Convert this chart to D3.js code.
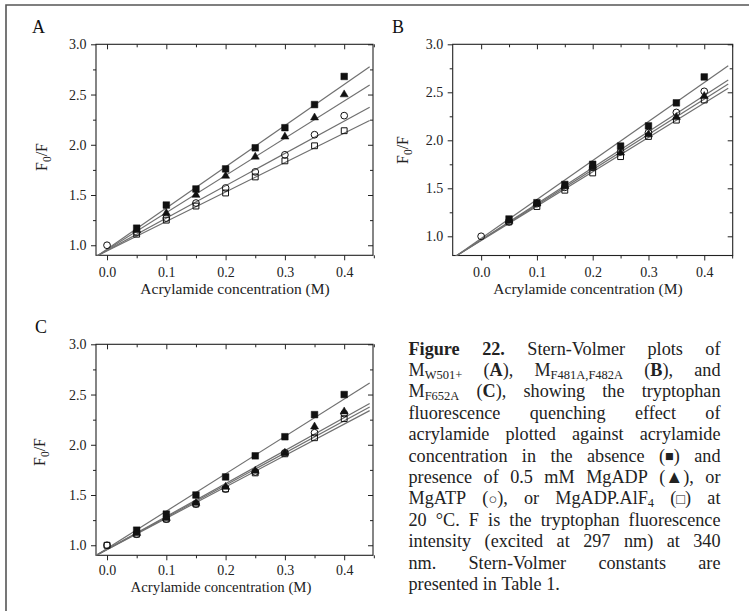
<!DOCTYPE html>
<html>
<head>
<meta charset="utf-8">
<script src="https://cdn.jsdelivr.net/npm/d3@7"></script>
<style>
  body { margin: 0; background: #fff; }
  svg { display: block; font-family: "Liberation Serif", "Times New Roman", serif; }
</style>
</head>
<body>
<svg id="fig" width="749" height="611"></svg>
<script>
// =============================================================================
// data
// =============================================================================
var concentrations = [0, 0.05, 0.1, 0.15, 0.2, 0.25, 0.3, 0.35, 0.4];
var xTicks = [0, 0.1, 0.2, 0.3, 0.4];
var xMinorTicks = [0.05, 0.15, 0.25, 0.35, 0.45];
var yTicks = [1.0, 1.5, 2.0, 2.5, 3.0];
var yMinorTicks = [1.25, 1.75, 2.25, 2.75];
// order: no nucleotide (filled square), MgADP (filled triangle), MgATP (open circle), MgADP.AlF4 (open square)
var symbolKinds = ["squareFilled", "triangleFilled", "circleOpen", "squareOpen"];

// panel A : M W501+
var apoA = [null, 1.17, 1.40, 1.56, 1.76, 1.97, 2.17, 2.40, 2.68];
var adpA = [null, 1.15, 1.32, 1.50, 1.69, 1.88, 2.08, 2.27, 2.50];
var atpA = [1.00, 1.13, 1.27, 1.42, 1.57, 1.73, 1.90, 2.10, 2.29];
var alfA = [null, 1.11, 1.25, 1.39, 1.52, 1.68, 1.84, 1.99, 2.14];
var slopeA = [4.10, 3.70, 3.22, 2.93];
var interceptA = [0.961, 0.955, 0.948, 0.944];

// panel B : M F481A,F482A
var apoB = [null, 1.18, 1.35, 1.54, 1.75, 1.94, 2.15, 2.39, 2.66];
var adpB = [null, 1.16, 1.34, 1.52, 1.72, 1.87, 2.06, 2.24, 2.46];
var atpB = [1.00, 1.15, 1.34, 1.51, 1.72, 1.88, 2.08, 2.29, 2.51];
var alfB = [null, 1.15, 1.31, 1.48, 1.66, 1.83, 2.04, 2.21, 2.42];
var slopeB = [4.06, 3.67, 3.76, 3.58];
var interceptB = [0.977, 0.960, 0.963, 0.956];

// panel C : M F652A
var apoC = [null, 1.15, 1.31, 1.50, 1.68, 1.89, 2.08, 2.30, 2.50];
var adpC = [null, 1.12, 1.27, 1.42, 1.58, 1.74, 1.92, 2.18, 2.33];
var atpC = [1.00, 1.11, 1.26, 1.41, 1.56, 1.73, 1.92, 2.12, 2.31];
var alfC = [1.00, 1.11, 1.26, 1.41, 1.56, 1.72, 1.91, 2.07, 2.26];
var slopeC = [3.72, 3.275, 3.20, 3.124];
var interceptC = [0.967, 0.959, 0.958, 0.956];

var fitEnd = 0.443;

// caption, one entry per printed line. *bold*  _{subscript}  ~{symbol}
var captionLines = [
    "*Figure* *22.* Stern-Volmer plots of",
    "M_{W501+} (*A*), M_{F481A,F482A} (*B*), and",
    "M_{F652A} (*C*), showing the tryptophan",
    "fluorescence quenching effect of",
    "acrylamide plotted against acrylamide",
    "concentration in the absence (~{\u25A0}) and",
    "presence of 0.5 mM MgADP (\u25B2), or",
    "MgATP (~{\u25CB}), or MgADP.AlF_{4} (~{\u25A1}) at",
    "20 \u00B0C. F is the tryptophan fluorescence",
    "intensity (excited at 297 nm) at 340",
    "nm. Stern-Volmer constants are",
    "presented in Table 1."
];

// =============================================================================
// layout
// =============================================================================
var svg = d3.select("#fig");

var panels = [
    { label: "A", left: 96, right: 373, top: 44.3, bottom: 255.3,
      xDomain: [-0.0186, 0.4486], yDomain: [0.9, 3.0], tickPad: 6.5,
      series: [apoA, adpA, atpA, alfA], slope: slopeA, intercept: interceptA,
      labelX: 32, labelY: 33, yTitleX: 47, yTitleY: 157, xTitleX: 235, xTitleY: 294, xTitleSize: 15.5 },
    { label: "B", left: 452.7, right: 732.7, top: 44.3, bottom: 255.5,
      xDomain: [-0.051, 0.451], yDomain: [0.8, 3.0], tickPad: 6.5,
      series: [apoB, adpB, atpB, alfB], slope: slopeB, intercept: interceptB,
      labelX: 392, labelY: 33, yTitleX: 408, yTitleY: 150, xTitleX: 588, xTitleY: 294, xTitleSize: 15.5 },
    { label: "C", left: 96, right: 373, top: 344.3, bottom: 555.3,
      xDomain: [-0.0186, 0.4486], yDomain: [0.9, 3.0], tickPad: 5,
      series: [apoC, adpC, atpC, alfC], slope: slopeC, intercept: interceptC,
      labelX: 35, labelY: 333, yTitleX: 45, yTitleY: 452, xTitleX: 221, xTitleY: 592, xTitleSize: 14.8 }
];

// outer frame of the figure
svg.append("path")
    .attr("d", "M6,611 L6,5 L749,5")
    .attr("fill", "none")
    .attr("stroke", "#555")
    .attr("stroke-width", 1.6);

panels.forEach(drawPanel);
drawCaption();

// =============================================================================
// panels
// =============================================================================
function drawPanel(p) {

    var x = d3.scaleLinear().domain(p.xDomain).range([p.left, p.right]);
    var y = d3.scaleLinear().domain(p.yDomain).range([p.bottom, p.top]);
    var g = svg.append("g").attr("class", "panel" + p.label);

    var clipId = "clip" + p.label;
    svg.append("clipPath").attr("id", clipId)
        .append("rect")
        .attr("x", p.left).attr("y", p.top)
        .attr("width", p.right - p.left).attr("height", p.bottom - p.top);

    // axes: major ticks outward on bottom/left, inward on top/right
    var axes = [
        [d3.axisBottom(x).tickValues(xTicks).tickSize(5).tickPadding(p.tickPad).tickFormat(d3.format(".1f")), "translate(0," + p.bottom + ")"],
        [d3.axisBottom(x).tickValues(xMinorTicks).tickSize(3).tickFormat(""), "translate(0," + p.bottom + ")"],
        [d3.axisTop(x).tickValues(xTicks).tickSize(-5).tickFormat(""), "translate(0," + p.top + ")"],
        [d3.axisTop(x).tickValues(xMinorTicks).tickSize(-3).tickFormat(""), "translate(0," + p.top + ")"],
        [d3.axisLeft(y).tickValues(yTicks).tickSize(5).tickPadding(4.5).tickFormat(d3.format(".1f")), "translate(" + p.left + ",0)"],
        [d3.axisLeft(y).tickValues(yMinorTicks).tickSize(3).tickFormat(""), "translate(" + p.left + ",0)"],
        [d3.axisRight(y).tickValues(yTicks).tickSize(-5).tickFormat(""), "translate(" + p.right + ",0)"],
        [d3.axisRight(y).tickValues(yMinorTicks).tickSize(-3).tickFormat(""), "translate(" + p.right + ",0)"]
    ];
    axes.forEach(function (a) {
        var ax = g.append("g").attr("transform", a[1]).call(a[0]);
        ax.select(".domain").remove();
        ax.selectAll("line").attr("stroke", "#222").attr("stroke-width", 1);
        ax.selectAll("text")
            .attr("fill", "#222")
            .style("font-family", "'Liberation Serif', serif")
            .style("font-size", "14px");
    });

    g.append("rect")
        .attr("x", p.left).attr("y", p.top)
        .attr("width", p.right - p.left).attr("height", p.bottom - p.top)
        .attr("fill", "none")
        .attr("stroke", "#222")
        .attr("stroke-width", 1.1);

    // fitted lines
    var line = d3.line()
        .x(function (d) { return x(d[0]); })
        .y(function (d) { return y(d[1]); });

    var fits = g.append("g").attr("clip-path", "url(#" + clipId + ")");
    p.slope.forEach(function (k, i) {
        var b = p.intercept[i];
        var ends = [p.xDomain[0], fitEnd].map(function (c) { return [c, b + k * c]; });
        fits.append("path")
            .attr("d", line(ends))
            .attr("fill", "none")
            .attr("stroke", "#707070")
            .attr("stroke-width", 1.2);
    });

    // data points
    p.series.forEach(function (values, i) {
        var kind = symbolKinds[i];
        var pts = concentrations
            .map(function (c, j) { return { x: c, y: values[j] }; })
            .filter(function (d) { return d.y !== null; });

        var sym = d3.symbol();
        if (kind === "squareFilled") sym.type(d3.symbolSquare).size(44);
        if (kind === "triangleFilled") sym.type(d3.symbolTriangle).size(28);
        if (kind === "circleOpen") sym.type(d3.symbolCircle).size(36);
        if (kind === "squareOpen") sym.type(d3.symbolSquare).size(34);

        var filled = kind.indexOf("Filled") > 0;
        g.append("g").selectAll("path")
            .data(pts)
            .join("path")
            .attr("transform", function (d) { return "translate(" + x(d.x) + "," + y(d.y) + ")"; })
            .attr("d", sym)
            .attr("fill", filled ? "#111" : "none")
            .attr("stroke", "#111")
            .attr("stroke-width", filled ? 0.5 : 1);
    });

    // labels
    g.append("text")
        .attr("x", p.labelX).attr("y", p.labelY)
        .style("font-size", "18px")
        .attr("fill", "#111")
        .text(p.label);

    g.append("text")
        .attr("x", p.xTitleX).attr("y", p.xTitleY)
        .attr("text-anchor", "middle")
        .style("font-size", p.xTitleSize + "px")
        .attr("fill", "#222")
        .text("Acrylamide concentration (M)");

    var yt = g.append("text")
        .attr("transform", "translate(" + p.yTitleX + "," + p.yTitleY + ") rotate(-90)")
        .attr("text-anchor", "middle")
        .style("font-size", "16px")
        .attr("fill", "#222");
    yt.append("tspan").text("F");
    yt.append("tspan").attr("dy", 4).style("font-size", "11.5px").text("0");
    yt.append("tspan").attr("dy", -4).text("/F");
}

// =============================================================================
// caption (justified)
// =============================================================================
function parseWord(word) {
    var parts = word.split(/(\*[^*]+\*|_\{[^}]+\}|~\{[^}]+\})/).filter(function (s) { return s.length; });
    return parts.map(function (s) {
        if (s[0] === "*") return { text: s.slice(1, -1), style: "b" };
        if (s[0] === "_") return { text: s.slice(2, -1), style: "sub" };
        if (s[0] === "~") return { text: s.slice(2, -1), style: "sym" };
        return { text: s, style: "n" };
    });
}

function fillWord(textSel, segs, baseline) {
    segs.forEach(function (s) {
        var t = textSel.append("tspan").text(s.text);
        if (s.style === "b") t.attr("font-weight", "bold");
        if (s.style === "sub") t.attr("y", baseline + 3).style("font-size", "12.5px");
        else if (s.style === "sym") t.attr("y", baseline - 0.5).style("font-size", "14.5px");
        else t.attr("y", baseline);
    });
}

function drawCaption() {
    var left = 408.5, right = 720.5, first = 354.5, step = 21.4;
    var fontSize = 18.2;
    var g = svg.append("g").attr("class", "caption")
        .style("font-size", fontSize + "px")
        .attr("fill", "#222");

    captionLines.forEach(function (ln, i) {
        var base = first + i * step;
        var words = ln.split(" ").map(parseWord);
        var nodes = words.map(function (segs) {
            var t = g.append("text").attr("y", base);
            fillWord(t, segs, base);
            return t;
        });
        var widths = nodes.map(function (t) { return t.node().getComputedTextLength(); });
        var total = d3.sum(widths);
        var last = i === captionLines.length - 1;
        var gap = last ? fontSize * 0.25 : (right - left - total) / (words.length - 1);
        var cx = left;
        nodes.forEach(function (t, j) {
            t.attr("x", cx);
            t.select("tspan").attr("x", cx);
            cx += widths[j] + gap;
        });
    });
}
</script>
</body>
</html>
